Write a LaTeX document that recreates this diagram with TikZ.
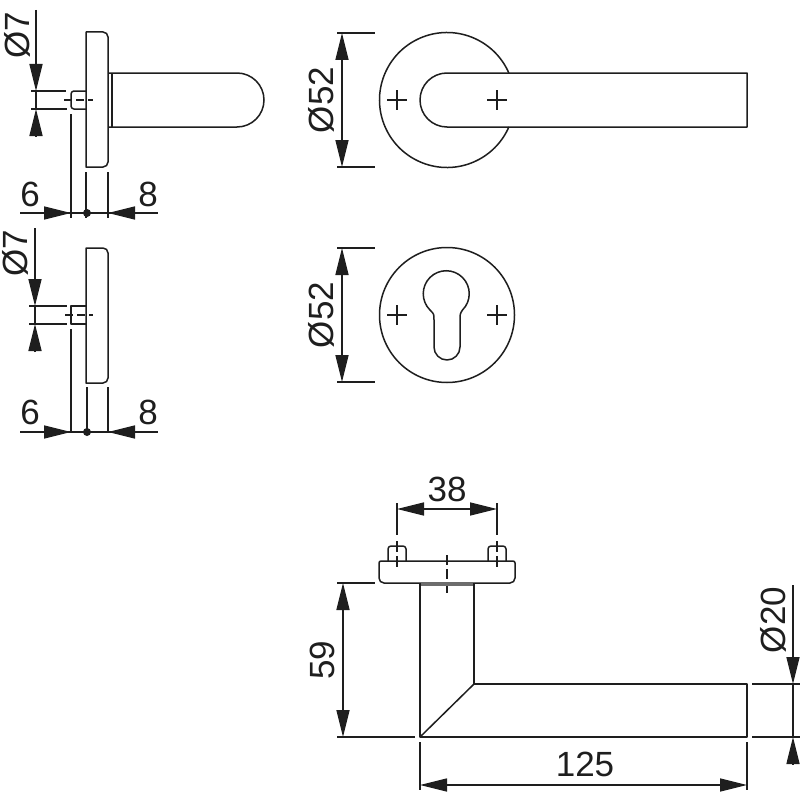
\documentclass[tikz,border=0pt]{standalone}
\usepackage{fontspec}
\setmainfont{Liberation Sans}
\usetikzlibrary{arrows.meta}
\definecolor{ink}{HTML}{1E1E1E}
\tikzset{
  part/.style={draw=ink,line width=1.5pt,line join=round},
  thin part/.style={draw=ink,line width=1.1pt},
  ext/.style={draw=ink,line width=1.2pt},
  centre/.style={draw=ink,line width=1.1pt,dash pattern=on 8pt off 4pt},
  dimline/.style={draw=ink,line width=1.4pt},
  tip/.style={-{Triangle[length=27pt,width=13pt,color=ink]}},
  tips/.style={{Triangle[length=27pt,width=13pt,color=ink]}-{Triangle[length=27pt,width=13pt,color=ink]}},
  lab/.style={inner sep=0pt,text=ink,font=\fontsize{35}{35}\selectfont},
  vlab/.style={lab,rotate=90},
  dot/.style={circle,fill=ink,inner sep=0pt,minimum size=8pt}
}
\begin{document}
\begin{tikzpicture}[x=1pt,y=1pt]
\useasboundingbox (0,-800) rectangle (800,0);
\fill[white] (0,-800) rectangle (800,0);

% --- top side view
\draw[part] (86,-32) -- (103,-32) arc[start angle=90,end angle=0,radius=5] -- (108,-162) arc[start angle=0,end angle=-90,radius=5] -- (86,-167) -- cycle;
\draw[part] (108,-73) -- (237,-73) arc[start angle=90,end angle=-90,radius=27] -- (108,-127);
\draw[thin part] (112,-73) -- (112,-127);
\draw[part] (86,-91) -- (74,-91) arc[start angle=90,end angle=180,radius=3] -- (71,-106) arc[start angle=180,end angle=270,radius=3] -- (86,-109);
\draw[centre] (64,-100) -- (93,-100);
\draw[ext] (31,-91) -- (66,-91) (31,-109) -- (67,-109);
\draw[ext] (71,-114) -- (71,-218) (86,-172) -- (86,-218) (108,-172) -- (108,-218);
\draw[dimline,tip] (36,-10) -- (36,-91);
\draw[dimline,tip] (36,-136) -- (36,-109);
\draw[dimline] (36,-91) -- (36,-109);
\draw[dimline] (20,-213) -- (158,-213);
\draw[dimline,tip] (44,-213) -- (71,-213);
\draw[dimline,tip] (135,-213) -- (108,-213);
\node[dot] (d1) at (87,-213) {};
\node[vlab] (t7a) at (17,-35) {Ø7};
\node[lab] (t6a) at (30,-194) {6};
\node[lab] (t8a) at (148,-194) {8};

% --- lower side view
\draw[part] (86,-248) -- (103,-248) arc[start angle=90,end angle=0,radius=5] -- (108,-378) arc[start angle=0,end angle=-90,radius=5] -- (86,-383) -- cycle;
\draw[part] (86,-306) -- (71,-306) -- (71,-324) -- (86,-324);
\draw[centre] (65,-315) -- (93,-315);
\draw[ext] (29,-306) -- (67,-306) (29,-324) -- (67,-324);
\draw[ext] (71,-329) -- (71,-433) (87,-387) -- (87,-433) (108,-387) -- (108,-433);
\draw[dimline,tip] (35,-228) -- (35,-306);
\draw[dimline,tip] (35,-352) -- (35,-324);
\draw[dimline] (35,-306) -- (35,-324);
\draw[dimline] (20,-432) -- (158,-432);
\draw[dimline,tip] (44,-432) -- (71,-432);
\draw[dimline,tip] (135,-432) -- (108,-432);
\node[dot] (d2) at (87,-432) {};
\node[vlab] (t7b) at (15,-253) {Ø7};
\node[lab] (t6b) at (30,-412) {6};
\node[lab] (t8b) at (148,-412) {8};

% --- top front view
\draw[part] (447,-100) ++(23.6:67.5) arc[start angle=23.6,end angle=336.4,radius=67.5];
\draw[part] (747,-73) -- (447,-73) arc[start angle=90,end angle=270,radius=27] -- (747,-127) -- cycle;
\draw[part] (387,-100) -- (407,-100) (397,-90) -- (397,-110);
\draw[part] (487,-100) -- (507,-100) (497,-90) -- (497,-110);
\draw[ext] (337,-33) -- (375,-33) (337,-167) -- (375,-167);
\draw[dimline,tips] (342,-33) -- (342,-167);
\node[vlab] (t52a) at (321,-100) {Ø52};

% --- lower front view
\draw[part] (447,-315) circle[radius=67.5];
\draw[part] (462.5,-310) arc[start angle=-45,end angle=225,radius=23] .. controls (434,-314) .. (434,-320) -- (434,-347) arc[start angle=180,end angle=360,radius=13] -- (460,-320) .. controls (460,-314) .. (462.5,-310);
\draw[part] (387,-315) -- (407,-315) (397,-305) -- (397,-325);
\draw[part] (487,-315) -- (507,-315) (497,-305) -- (497,-325);
\draw[ext] (337,-248) -- (375,-248) (337,-382) -- (375,-382);
\draw[dimline,tips] (342,-248) -- (342,-382);
\node[vlab] (t52b) at (321,-315) {Ø52};

% --- plan view
\draw[part] (381,-561) -- (513,-561) arc[start angle=90,end angle=0,radius=2] -- (515,-578) arc[start angle=0,end angle=-90,radius=5] -- (384,-583) arc[start angle=270,end angle=180,radius=5] -- (379,-563) arc[start angle=180,end angle=90,radius=2];
\draw[part] (388,-561) -- (388,-549) arc[start angle=180,end angle=90,radius=3] -- (403,-546) arc[start angle=90,end angle=0,radius=3] -- (406,-561);
\draw[part] (488,-561) -- (488,-549) arc[start angle=180,end angle=90,radius=3] -- (503,-546) arc[start angle=90,end angle=0,radius=3] -- (506,-561);
\draw[ext] (397,-503) -- (397,-535) (497,-503) -- (497,-535);
\draw[centre,dash pattern=on 11pt off 4pt] (397,-541) -- (397,-567);
\draw[centre,dash pattern=on 11pt off 4pt] (497,-541) -- (497,-567);
\draw[centre,dash pattern=on 10pt off 4pt] (447,-555) -- (447,-594);
\draw[dimline,tips] (397,-509) -- (497,-509);
\node[lab] (t38) at (447,-489) {38};

\fill[ink!65] (420,-583) rectangle (474,-586);
\draw[part] (420,-583) -- (420,-737) -- (747,-737) -- (747,-684) -- (474,-684) -- (474,-583);
\draw[part] (420,-737) -- (474,-684);
\draw[ext] (337,-583) -- (375,-583) (337,-737) -- (415,-737);
\draw[dimline,tips] (343,-583) -- (343,-737);
\node[vlab] (t59) at (322,-660) {59};
\draw[ext] (420,-742) -- (420,-790) (747,-742) -- (747,-790);
\draw[dimline,tips] (420,-785) -- (747,-785);
\node[lab] (t125) at (585,-764) {125};
\draw[ext] (752,-684) -- (800,-684) (752,-737) -- (800,-737);
\draw[dimline,tip] (793,-585) -- (793,-684);
\draw[dimline,tip] (793,-764) -- (793,-737);
\draw[dimline] (793,-684) -- (793,-737);
\node[vlab] (t20) at (773,-620) {Ø20};
\end{tikzpicture}
\end{document}
